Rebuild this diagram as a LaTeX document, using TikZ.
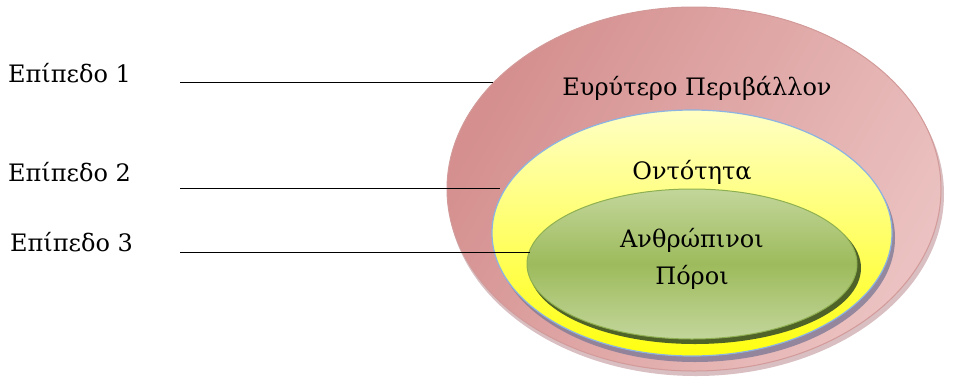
\documentclass[tikz,border=0pt]{standalone}
\usepackage{fontspec}
\setmainfont{DejaVu Serif}
\usetikzlibrary{shapes.geometric}
\definecolor{pinkA}{HTML}{D48F8E}
\definecolor{pinkB}{HTML}{EBC2C1}
\definecolor{pinkEdge}{HTML}{D29A99}
\definecolor{pinkShadow}{HTML}{C9A3A8}
\definecolor{yelTop}{HTML}{FFFFC4}
\definecolor{yelBot}{HTML}{FFFF10}
\definecolor{blueEdge}{HTML}{8DB3E2}
\definecolor{yelShadow}{HTML}{7F7A96}
\definecolor{grnTop}{HTML}{C3D69B}
\definecolor{grnMid}{HTML}{9DBB5C}
\definecolor{grnEdge}{HTML}{8FB050}
\definecolor{grnShadow}{HTML}{4F6228}
\tikzset{
  ring/.style={ellipse, inner sep=0pt, outer sep=0pt},
  lbl/.style={font=\fontsize{24}{28}\selectfont, anchor=west, inner sep=0pt},
  intext/.style={font=\fontsize{24}{37}\selectfont, align=center, inner sep=0pt},
  leader/.style={draw=black, line width=0.9pt}
}
\begin{document}
\begin{tikzpicture}[x=1pt,y=-1pt]
\useasboundingbox (0,0) rectangle (970,376);
% outer ring
\fill[pinkShadow, opacity=0.7] (696,194) ellipse [x radius=248pt, y radius=182pt];
\node[ring, minimum width=494pt, minimum height=364pt, draw=pinkEdge, line width=1pt,
  left color=pinkA, right color=pinkB, shading angle=60] (outer) at (694,189) {};
% yellow ring
\fill[yelShadow, opacity=0.8] (695,238) ellipse [x radius=200pt, y radius=124pt];
\node[ring, minimum width=400pt, minimum height=246pt, draw=blueEdge, line width=1.2pt,
  top color=yelTop, bottom color=yelBot] (mid) at (692,233) {};
% green ring
\fill[grnShadow] (695,268) ellipse [x radius=166pt, y radius=76pt];
\node[ring, minimum width=330pt, minimum height=150pt, draw=grnEdge, line width=1pt,
  top color=grnTop, bottom color=grnTop, middle color=grnMid] (inner) at (692,264) {};
% texts
\node[intext] (t1) at (697,88) {Ευρύτερο Περιβάλλον};
\node[intext] (t2) at (692,172) {Οντότητα};
\node[intext] (t3) at (692,259) {Ανθρώπινοι\\Πόροι};
% labels
\node[lbl] (e1) at (8,73) {Επίπεδο 1};
\node[lbl] (e2) at (8,172) {Επίπεδο 2};
\node[lbl] (e3) at (10,242) {Επίπεδο 3};
% leader lines
\coordinate (s1) at (180,82);
\coordinate (f1) at (493,82);
\coordinate (s2) at (180,188);
\coordinate (f2) at (500,188);
\coordinate (s3) at (180,252);
\coordinate (f3) at (530,252);
\draw[leader] (s1) -- (f1);
\draw[leader] (s2) -- (f2);
\draw[leader] (s3) -- (f3);
\end{tikzpicture}
\end{document}
